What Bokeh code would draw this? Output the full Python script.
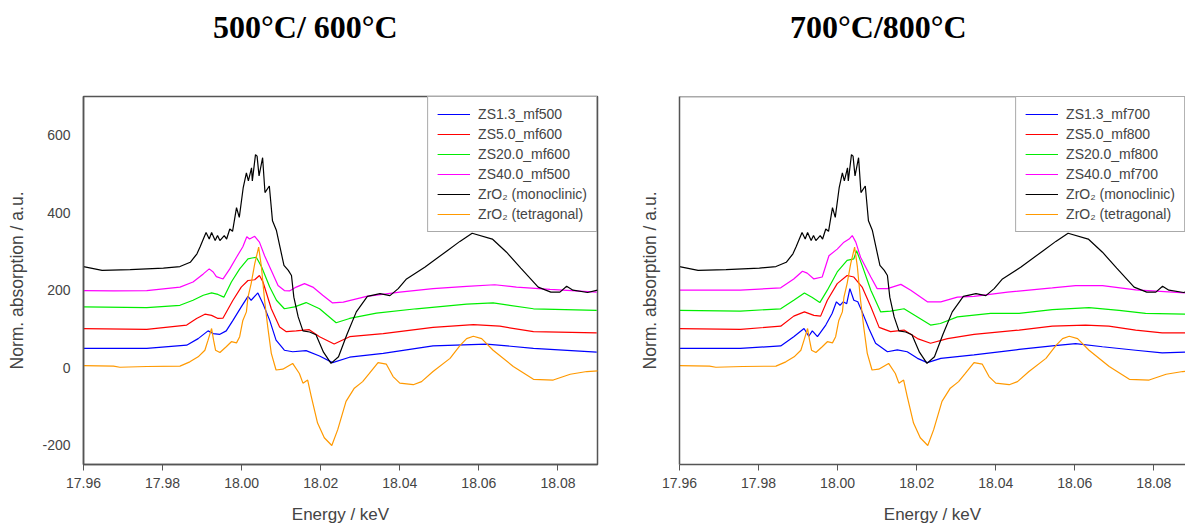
from bokeh.plotting import figure
from bokeh.models import FixedTicker, PrintfTickFormatter, Span, Div
from bokeh.layouts import row, column
from bokeh.embed import file_html
from bokeh.resources import INLINE

# ---------------- data (energy in keV, normalised absorption) ----------------
mono_E = [17.960, 17.9647, 17.9718, 17.9802, 17.9844, 17.987, 17.9887, 17.9895, 17.991, 17.9918,
          17.9924, 17.9933, 17.9939, 17.9945, 17.9956, 17.9962, 17.997, 17.9977, 17.9987, 17.9994,
          18.0004, 18.0012, 18.0017, 18.0025, 18.0027, 18.0035, 18.0039, 18.0044, 18.0053, 18.0059,
          18.007, 18.0078, 18.0088, 18.0097, 18.0107, 18.0118, 18.0126, 18.0132, 18.0143, 18.0155,
          18.0172, 18.0188, 18.0207, 18.0226, 18.0245, 18.0266, 18.029, 18.0318, 18.035, 18.0375,
          18.0396, 18.0417, 18.0463, 18.052, 18.0552, 18.0583, 18.0634, 18.067, 18.0706, 18.075,
          18.0782, 18.0805, 18.0822, 18.0838, 18.0875, 18.09]
mono_V = [261, 251, 253, 257, 261, 272, 294, 312, 349, 332,
          349, 328, 341, 328, 341, 332, 358, 352, 413, 388,
          465, 503, 482, 516, 482, 550, 546, 495, 542, 452,
          469, 379, 354, 311, 264, 251, 238, 182, 131, 95,
          92, 85, 40, 11, 28, 85, 144, 184, 191, 186,
          204, 229, 259, 302, 326, 347, 332, 298, 257, 208,
          195, 195, 210, 200, 194, 200]

tetra_E = [17.960, 17.9676, 17.9692, 17.976, 17.9844, 17.9869, 17.989, 17.9907, 17.9915, 17.9924,
           17.9929, 17.9934, 17.9945, 17.9961, 17.9974, 17.9987, 17.9995, 18.0003, 18.0012, 18.0016,
           18.0024, 18.0033, 18.0043, 18.005, 18.0058, 18.0066, 18.0075, 18.0087, 18.0104, 18.0129,
           18.0146, 18.0155, 18.0167, 18.0176, 18.0192, 18.0209, 18.0228, 18.0243, 18.0264, 18.0285,
           18.0306, 18.0323, 18.0345, 18.0366, 18.0383, 18.04, 18.0434, 18.0455, 18.0484, 18.0527,
           18.0553, 18.0569, 18.0586, 18.0607, 18.0636, 18.0687, 18.0738, 18.0788, 18.0831, 18.0873,
           18.0903]
tetra_V = [5, 4, 1, 3, 4, 15, 28, 45, 71, 101,
           71, 45, 39, 54, 67, 64, 80, 122, 144, 182,
           217, 268, 311, 260, 174, 105, 37, -6, -4, 11,
           -15, -40, -32, -74, -143, -181, -201, -160, -87, -53,
           -36, -15, 13, 9, -23, -40, -44, -36, -10, 24,
           58, 75, 81, 75, 45, 3, -30, -32, -17, -10,
           -8]

# left panel samples (500 / 600 C)
zs40_500_E = [17.960, 17.9676, 17.976, 17.9844, 17.9877, 17.9903, 17.9918, 17.9928, 17.9936, 17.9953,
              17.997, 17.9987, 18.0003, 18.0013, 18.002, 18.0033, 18.0045, 18.0058, 18.0075, 18.0092,
              18.0108, 18.0121, 18.0138, 18.0159, 18.018, 18.0205, 18.023, 18.0257, 18.0316, 18.04,
              18.0484, 18.0569, 18.064, 18.0695, 18.078, 18.0898]
zs40_500_V = [199, 198, 199, 208, 221, 242, 255, 247, 235, 229,
              255, 285, 312, 338, 332, 339, 324, 289, 251, 212,
              199, 198, 208, 217, 208, 187, 167, 169, 184, 195,
              204, 210, 214, 208, 202, 195]

zs20_600_E = [17.960, 17.976, 17.9844, 17.9877, 17.9903, 17.9924, 17.994, 17.9955, 17.9974, 17.9995,
              18.0016, 18.0026, 18.0037, 18.005, 18.0071, 18.0088, 18.0108, 18.0134, 18.0163, 18.0197,
              18.0239, 18.0273, 18.0341, 18.0442, 18.0569, 18.0636, 18.0738, 18.0898]
zs20_600_V = [157, 155, 161, 174, 187, 193, 189, 182, 221, 255,
              281, 283, 285, 261, 208, 174, 152, 157, 168, 152,
              116, 127, 141, 152, 164, 167, 152, 148]

zs5_600_E = [17.960, 17.976, 17.9861, 17.9886, 17.9907, 17.9924, 17.994, 17.9953, 17.9978, 17.9999,
             18.0016, 18.0033, 18.0045, 18.0054, 18.0075, 18.0096, 18.0113, 18.0138, 18.0171, 18.0197,
             18.0234, 18.0273, 18.0358, 18.0484, 18.0586, 18.0653, 18.0738, 18.0898]
zs5_600_V = [101, 99, 110, 127, 138, 135, 127, 128, 174, 208,
             225, 227, 238, 221, 152, 105, 93, 95, 98, 80,
             61, 80, 88, 104, 111, 107, 93, 90]

zs1_500_E = [17.960, 17.976, 17.9861, 17.989, 17.9915, 17.9928, 17.9945, 17.9961, 17.9978, 17.9999,
             18.0016, 18.0024, 18.0041, 18.0054, 18.0071, 18.0087, 18.0108, 18.0129, 18.0163, 18.0197,
             18.023, 18.0273, 18.0358, 18.0484, 18.0619, 18.0738, 18.0898]
zs1_500_V = [50, 50, 58, 75, 95, 88, 86, 95, 122, 157,
             184, 174, 193, 165, 122, 71, 45, 41, 44, 30,
             13, 27, 37, 56, 61, 50, 40]

# right panel samples (700 / 800 C)
zs40_700_E = [17.960, 17.9754, 17.9856, 17.9889, 17.9911, 17.9923, 17.994, 17.9961, 17.9978, 17.9999,
              18.0016, 18.0029, 18.0037, 18.0046, 18.0058, 18.0084, 18.010, 18.0126, 18.016, 18.0185,
              18.0227, 18.0261, 18.0303, 18.0345, 18.043, 18.0543, 18.0602, 18.067, 18.0754, 18.088]
zs40_700_V = [200, 200, 206, 229, 249, 244, 229, 234, 289, 306,
              324, 332, 341, 324, 285, 234, 204, 204, 215, 200,
              170, 170, 182, 184, 195, 206, 212, 212, 201, 193]

zs20_800_E = [17.960, 17.9754, 17.9856, 17.9889, 17.9916, 17.9936, 17.9955, 17.9974, 17.9999, 18.0024,
              18.0041, 18.0048, 18.0062, 18.0084, 18.0109, 18.0134, 18.0168, 18.0202, 18.0235, 18.026,
              18.0303, 18.0387, 18.0459, 18.0543, 18.0636, 18.0712, 18.0779, 18.088]
zs20_800_V = [148, 146, 152, 174, 193, 181, 168, 200, 247, 277,
              281, 302, 264, 200, 144, 146, 152, 131, 110, 114,
              131, 140, 140, 150, 155, 148, 140, 138]

zs5_800_E = [17.960, 17.9754, 17.9856, 17.9889, 17.9916, 17.994, 17.9957, 17.9974, 17.9999, 18.0024,
             18.0041, 18.0062, 18.0084, 18.0105, 18.0134, 18.0168, 18.0202, 18.0235, 18.0278, 18.0345,
             18.0459, 18.0543, 18.0627, 18.0686, 18.0754, 18.0821, 18.088]
zs5_800_V = [101, 99, 107, 133, 144, 135, 133, 174, 217, 238,
             234, 208, 157, 104, 93, 97, 75, 63, 75, 86,
             97, 107, 110, 107, 97, 90, 90]

zs1_700_E = [17.960, 17.9754, 17.9856, 17.9889, 17.9915, 17.9927, 17.9936, 17.9949, 17.997, 17.9986,
             17.9997, 18.0006, 18.0014, 18.0023, 18.0031, 18.0041, 18.0051, 18.0062, 18.0079, 18.0096,
             18.0126, 18.0151, 18.0176, 18.0202, 18.0227, 18.0261, 18.0345, 18.0459, 18.0543, 18.0602,
             18.067, 18.0754, 18.0821, 18.088]
zs1_700_V = [50, 50, 56, 80, 101, 81, 95, 80, 110, 140,
             170, 161, 170, 165, 204, 174, 170, 144, 101, 63,
             41, 46, 41, 24, 13, 24, 33, 47, 56, 62,
             54, 45, 38, 40]

x_ticks = [17.96, 17.98, 18.00, 18.02, 18.04, 18.06, 18.08]
y_ticks = [-200, 0, 200, 400, 600]

titles = ["500\u00b0C/ 600\u00b0C", "700\u00b0C/800\u00b0C"]
left_labels = ["ZS1.3_mf500", "ZS5.0_mf600", "ZS20.0_mf600", "ZS40.0_mf500",
               "ZrO\u2082 (monoclinic)", "ZrO\u2082 (tetragonal)"]
right_labels = ["ZS1.3_mf700", "ZS5.0_mf800", "ZS20.0_mf800", "ZS40.0_mf700",
                "ZrO\u2082 (monoclinic)", "ZrO\u2082 (tetragonal)"]
colors = ["#0000ff", "#ff0000", "#00ee00", "#ff00ff", "#000000", "#ff9900"]

FRAME = "#555555"
SANS = "Liberation Sans"
TITLE_H = 44


def make_title(text, width, left_pad):
    return Div(text=text, width=width, height=TITLE_H, margin=(0, 0, 0, 0),
               styles={"font-family": "Liberation Serif", "font-weight": "bold",
                       "font-size": "32px", "padding-left": f"{left_pad}px",
                       "padding-top": "11px", "color": "#000000",
                       "line-height": "1", "white-space": "nowrap", "overflow": "visible"})


def make_panel(series, labels, width, border_left, x_end, show_ticklabels, outline):
    p = figure(width=width, height=526 - TITLE_H, x_range=(17.96, x_end), y_range=(-250, 700),
               output_backend="svg", toolbar_location=None,
               min_border_left=border_left, min_border_right=3 if outline else 0,
               min_border_top=96 - TITLE_H, min_border_bottom=60)
    p.xgrid.visible = False
    p.ygrid.visible = False
    p.background_fill_color = "white"
    p.border_fill_color = "white"
    if outline:
        p.outline_line_color = FRAME
        p.outline_line_width = 1.5
    else:
        p.outline_line_color = None
        p.add_layout(Span(location=700, dimension="width", line_color=FRAME, line_width=1.5))

    for (E, V), lab, c in zip(series, labels, colors):
        p.line(E, V, line_color=c, line_width=1.2, legend_label=lab)

    xa = p.xaxis[0]
    xa.ticker = FixedTicker(ticks=x_ticks)
    xa.formatter = PrintfTickFormatter(format="%.2f")
    xa.axis_label = "Energy / keV"
    xa.axis_label_text_font = SANS
    xa.axis_label_text_font_style = "normal"
    xa.axis_label_text_font_size = "17px"
    xa.axis_label_standoff = 14
    xa.major_label_text_font = SANS
    xa.major_label_text_font_size = "14px"
    xa.major_label_standoff = 7
    xa.major_tick_out = 6
    xa.major_tick_in = 0
    xa.minor_tick_line_color = None
    xa.axis_line_color = FRAME
    xa.axis_line_width = 1.5
    xa.major_tick_line_color = FRAME

    ya = p.yaxis[0]
    ya.ticker = FixedTicker(ticks=y_ticks if show_ticklabels else [])
    ya.formatter = PrintfTickFormatter(format="%d")
    ya.axis_label = "Norm. absorption / a.u."
    ya.axis_label_text_font = SANS
    ya.axis_label_text_font_style = "normal"
    ya.axis_label_text_font_size = "17.5px"
    ya.major_tick_out = 0
    ya.major_tick_in = 0
    ya.major_tick_line_color = None
    ya.minor_tick_line_color = None
    ya.minor_tick_out = 0
    ya.axis_line_color = FRAME
    ya.axis_line_width = 1.5
    ya.major_label_text_font = SANS
    ya.major_label_text_font_size = "14px"
    ya.major_label_standoff = 13
    ya.axis_label_standoff = 12 if show_ticklabels else 20

    lg = p.legend[0]
    lg.location = "top_right"
    lg.margin = 0
    lg.padding = 9
    lg.spacing = 4
    lg.glyph_width = 33
    lg.glyph_height = 14
    lg.label_height = 14
    lg.label_standoff = 8
    lg.label_text_font = SANS
    lg.label_text_font_size = "14px"
    lg.border_line_color = FRAME
    lg.border_line_width = 1.5
    lg.background_fill_alpha = 1.0
    return p


left_series = [(zs1_500_E, zs1_500_V), (zs5_600_E, zs5_600_V), (zs20_600_E, zs20_600_V),
               (zs40_500_E, zs40_500_V), (mono_E, mono_V), (tetra_E, tetra_V)]
right_series = [(zs1_700_E, zs1_700_V), (zs5_800_E, zs5_800_V), (zs20_800_E, zs20_800_V),
                (zs40_700_E, zs40_700_V), (mono_E, mono_V), (tetra_E, tetra_V)]

p1 = make_panel(left_series, left_labels, 600, 83, 18.09, True, True)
p2 = make_panel(right_series, right_labels, 585, 79, 18.088, False, False)

t1 = make_title(titles[0], 600, 213)
t2 = make_title(titles[1], 585, 190)

layout = row(column(t1, p1), column(t2, p2))
open("out.html", "w").write(file_html(layout, INLINE))
